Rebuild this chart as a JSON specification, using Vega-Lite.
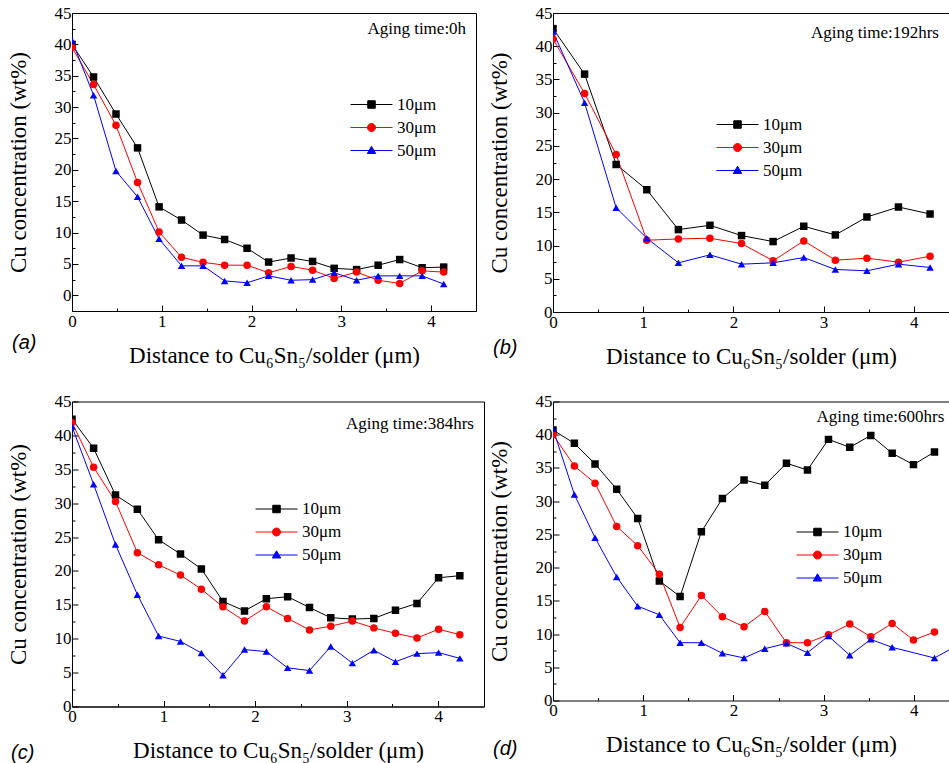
{
"$schema": "https://vega.github.io/schema/vega-lite/v6.json",
"background": "white",
"padding": {"left": 6, "top": 3, "right": 0, "bottom": 0},
"datasets": {
"pts": [
{"p":"a","s":"10μm","x":0,"y":40},{"p":"a","s":"10μm","x":0.24,"y":34.8},{"p":"a","s":"10μm","x":0.49,"y":28.9},{"p":"a","s":"10μm","x":0.73,"y":23.5},{"p":"a","s":"10μm","x":0.97,"y":14.1},{"p":"a","s":"10μm","x":1.22,"y":12.0},{"p":"a","s":"10μm","x":1.46,"y":9.6},{"p":"a","s":"10μm","x":1.7,"y":8.9},{"p":"a","s":"10μm","x":1.95,"y":7.5},{"p":"a","s":"10μm","x":2.19,"y":5.3},{"p":"a","s":"10μm","x":2.44,"y":5.95},{"p":"a","s":"10μm","x":2.68,"y":5.4},{"p":"a","s":"10μm","x":2.92,"y":4.3},{"p":"a","s":"10μm","x":3.17,"y":4.1},{"p":"a","s":"10μm","x":3.41,"y":4.8},{"p":"a","s":"10μm","x":3.65,"y":5.7},{"p":"a","s":"10μm","x":3.9,"y":4.4},{"p":"a","s":"10μm","x":4.14,"y":4.5},
{"p":"a","s":"30μm","x":0,"y":39.5},{"p":"a","s":"30μm","x":0.24,"y":33.6},{"p":"a","s":"30μm","x":0.49,"y":27.1},{"p":"a","s":"30μm","x":0.73,"y":18.0},{"p":"a","s":"30μm","x":0.97,"y":10.1},{"p":"a","s":"30μm","x":1.22,"y":6.06},{"p":"a","s":"30μm","x":1.46,"y":5.26},{"p":"a","s":"30μm","x":1.7,"y":4.8},{"p":"a","s":"30μm","x":1.95,"y":4.8},{"p":"a","s":"30μm","x":2.19,"y":3.6},{"p":"a","s":"30μm","x":2.44,"y":4.6},{"p":"a","s":"30μm","x":2.68,"y":4.0},{"p":"a","s":"30μm","x":2.92,"y":2.7},{"p":"a","s":"30μm","x":3.17,"y":3.7},{"p":"a","s":"30μm","x":3.41,"y":2.4},{"p":"a","s":"30μm","x":3.65,"y":1.9},{"p":"a","s":"30μm","x":3.9,"y":3.9},{"p":"a","s":"30μm","x":4.14,"y":3.7},
{"p":"a","s":"50μm","x":0,"y":40.6},{"p":"a","s":"50μm","x":0.24,"y":31.9},{"p":"a","s":"50μm","x":0.49,"y":19.8},{"p":"a","s":"50μm","x":0.73,"y":15.7},{"p":"a","s":"50μm","x":0.97,"y":9.0},{"p":"a","s":"50μm","x":1.22,"y":4.7},{"p":"a","s":"50μm","x":1.46,"y":4.7},{"p":"a","s":"50μm","x":1.7,"y":2.3},{"p":"a","s":"50μm","x":1.95,"y":2.0},{"p":"a","s":"50μm","x":2.19,"y":3.1},{"p":"a","s":"50μm","x":2.44,"y":2.4},{"p":"a","s":"50μm","x":2.68,"y":2.5},{"p":"a","s":"50μm","x":2.92,"y":3.6},{"p":"a","s":"50μm","x":3.17,"y":2.4},{"p":"a","s":"50μm","x":3.41,"y":3.1},{"p":"a","s":"50μm","x":3.65,"y":3.1},{"p":"a","s":"50μm","x":3.9,"y":3.1},{"p":"a","s":"50μm","x":4.14,"y":1.8},
{"p":"b","s":"10μm","x":0,"y":42.65},{"p":"b","s":"10μm","x":0.35,"y":35.8},{"p":"b","s":"10μm","x":0.7,"y":22.2},{"p":"b","s":"10μm","x":1.04,"y":18.4},{"p":"b","s":"10μm","x":1.39,"y":12.4},{"p":"b","s":"10μm","x":1.74,"y":13.05},{"p":"b","s":"10μm","x":2.09,"y":11.5},{"p":"b","s":"10μm","x":2.44,"y":10.6},{"p":"b","s":"10μm","x":2.78,"y":12.9},{"p":"b","s":"10μm","x":3.13,"y":11.6},{"p":"b","s":"10μm","x":3.48,"y":14.3},{"p":"b","s":"10μm","x":3.83,"y":15.8},{"p":"b","s":"10μm","x":4.18,"y":14.75},
{"p":"b","s":"30μm","x":0,"y":41.1},{"p":"b","s":"30μm","x":0.35,"y":32.9},{"p":"b","s":"30μm","x":0.7,"y":23.7},{"p":"b","s":"30μm","x":1.04,"y":10.8},{"p":"b","s":"30μm","x":1.39,"y":11.0},{"p":"b","s":"30μm","x":1.74,"y":11.1},{"p":"b","s":"30μm","x":2.09,"y":10.3},{"p":"b","s":"30μm","x":2.44,"y":7.7},{"p":"b","s":"30μm","x":2.78,"y":10.7},{"p":"b","s":"30μm","x":3.13,"y":7.8},{"p":"b","s":"30μm","x":3.48,"y":8.1},{"p":"b","s":"30μm","x":3.83,"y":7.5},{"p":"b","s":"30μm","x":4.18,"y":8.4},
{"p":"b","s":"50μm","x":0,"y":42.2},{"p":"b","s":"50μm","x":0.35,"y":31.5},{"p":"b","s":"50μm","x":0.7,"y":15.7},{"p":"b","s":"50μm","x":1.04,"y":11.1},{"p":"b","s":"50μm","x":1.39,"y":7.4},{"p":"b","s":"50μm","x":1.74,"y":8.6},{"p":"b","s":"50μm","x":2.09,"y":7.2},{"p":"b","s":"50μm","x":2.44,"y":7.4},{"p":"b","s":"50μm","x":2.78,"y":8.2},{"p":"b","s":"50μm","x":3.13,"y":6.4},{"p":"b","s":"50μm","x":3.48,"y":6.2},{"p":"b","s":"50μm","x":3.83,"y":7.2},{"p":"b","s":"50μm","x":4.18,"y":6.7},
{"p":"c","s":"10μm","x":0,"y":42.4},{"p":"c","s":"10μm","x":0.236,"y":38.1},{"p":"c","s":"10μm","x":0.475,"y":31.2},{"p":"c","s":"10μm","x":0.714,"y":29.1},{"p":"c","s":"10μm","x":0.946,"y":24.6},{"p":"c","s":"10μm","x":1.185,"y":22.5},{"p":"c","s":"10μm","x":1.413,"y":20.3},{"p":"c","s":"10μm","x":1.649,"y":15.5},{"p":"c","s":"10μm","x":1.884,"y":14.1},{"p":"c","s":"10μm","x":2.123,"y":15.9},{"p":"c","s":"10μm","x":2.355,"y":16.2},{"p":"c","s":"10μm","x":2.594,"y":14.6},{"p":"c","s":"10μm","x":2.826,"y":13.1},{"p":"c","s":"10μm","x":3.062,"y":12.9},{"p":"c","s":"10μm","x":3.297,"y":13.0},{"p":"c","s":"10μm","x":3.533,"y":14.2},{"p":"c","s":"10μm","x":3.768,"y":15.2},{"p":"c","s":"10μm","x":4.004,"y":19.0},{"p":"c","s":"10μm","x":4.236,"y":19.3},
{"p":"c","s":"30μm","x":0,"y":41.9},{"p":"c","s":"30μm","x":0.236,"y":35.3},{"p":"c","s":"30μm","x":0.475,"y":30.25},{"p":"c","s":"30μm","x":0.714,"y":22.7},{"p":"c","s":"30μm","x":0.946,"y":20.9},{"p":"c","s":"30μm","x":1.185,"y":19.4},{"p":"c","s":"30μm","x":1.413,"y":17.3},{"p":"c","s":"30μm","x":1.649,"y":14.7},{"p":"c","s":"30μm","x":1.884,"y":12.6},{"p":"c","s":"30μm","x":2.123,"y":14.7},{"p":"c","s":"30μm","x":2.355,"y":13.0},{"p":"c","s":"30μm","x":2.594,"y":11.3},{"p":"c","s":"30μm","x":2.826,"y":11.85},{"p":"c","s":"30μm","x":3.062,"y":12.6},{"p":"c","s":"30μm","x":3.297,"y":11.6},{"p":"c","s":"30μm","x":3.533,"y":10.8},{"p":"c","s":"30μm","x":3.768,"y":10.1},{"p":"c","s":"30μm","x":4.004,"y":11.4},{"p":"c","s":"30μm","x":4.236,"y":10.6},
{"p":"c","s":"50μm","x":0,"y":41.3},{"p":"c","s":"50μm","x":0.236,"y":32.8},{"p":"c","s":"50μm","x":0.475,"y":23.9},{"p":"c","s":"50μm","x":0.714,"y":16.5},{"p":"c","s":"50μm","x":0.946,"y":10.4},{"p":"c","s":"50μm","x":1.185,"y":9.6},{"p":"c","s":"50μm","x":1.413,"y":7.9},{"p":"c","s":"50μm","x":1.649,"y":4.6},{"p":"c","s":"50μm","x":1.884,"y":8.4},{"p":"c","s":"50μm","x":2.123,"y":8.1},{"p":"c","s":"50μm","x":2.355,"y":5.7},{"p":"c","s":"50μm","x":2.594,"y":5.3},{"p":"c","s":"50μm","x":2.826,"y":8.85},{"p":"c","s":"50μm","x":3.062,"y":6.4},{"p":"c","s":"50μm","x":3.297,"y":8.3},{"p":"c","s":"50μm","x":3.533,"y":6.6},{"p":"c","s":"50μm","x":3.768,"y":7.8},{"p":"c","s":"50μm","x":4.004,"y":7.95},{"p":"c","s":"50μm","x":4.236,"y":7.1},
{"p":"d","s":"10μm","x":0,"y":40.7},{"p":"d","s":"10μm","x":0.237,"y":38.7},{"p":"d","s":"10μm","x":0.466,"y":35.6},{"p":"d","s":"10μm","x":0.706,"y":31.8},{"p":"d","s":"10μm","x":0.939,"y":27.4},{"p":"d","s":"10μm","x":1.179,"y":18.0},{"p":"d","s":"10μm","x":1.409,"y":15.65},{"p":"d","s":"10μm","x":1.645,"y":25.4},{"p":"d","s":"10μm","x":1.878,"y":30.4},{"p":"d","s":"10μm","x":2.118,"y":33.2},{"p":"d","s":"10μm","x":2.348,"y":32.4},{"p":"d","s":"10μm","x":2.588,"y":35.7},{"p":"d","s":"10μm","x":2.821,"y":34.7},{"p":"d","s":"10μm","x":3.054,"y":39.3},{"p":"d","s":"10μm","x":3.29,"y":38.1},{"p":"d","s":"10μm","x":3.523,"y":39.9},{"p":"d","s":"10μm","x":3.76,"y":37.2},{"p":"d","s":"10μm","x":3.996,"y":35.5},{"p":"d","s":"10μm","x":4.229,"y":37.4},
{"p":"d","s":"30μm","x":0,"y":40.0},{"p":"d","s":"30μm","x":0.237,"y":35.3},{"p":"d","s":"30μm","x":0.466,"y":32.7},{"p":"d","s":"30μm","x":0.706,"y":26.2},{"p":"d","s":"30μm","x":0.939,"y":23.3},{"p":"d","s":"30μm","x":1.179,"y":19.0},{"p":"d","s":"30μm","x":1.409,"y":11.0},{"p":"d","s":"30μm","x":1.645,"y":15.8},{"p":"d","s":"30μm","x":1.878,"y":12.6},{"p":"d","s":"30μm","x":2.118,"y":11.1},{"p":"d","s":"30μm","x":2.348,"y":13.4},{"p":"d","s":"30μm","x":2.588,"y":8.7},{"p":"d","s":"30μm","x":2.821,"y":8.7},{"p":"d","s":"30μm","x":3.054,"y":9.9},{"p":"d","s":"30μm","x":3.29,"y":11.5},{"p":"d","s":"30μm","x":3.523,"y":9.6},{"p":"d","s":"30μm","x":3.76,"y":11.6},{"p":"d","s":"30μm","x":3.996,"y":9.1},{"p":"d","s":"30μm","x":4.229,"y":10.3},
{"p":"d","s":"50μm","x":0,"y":40.9},{"p":"d","s":"50μm","x":0.237,"y":31.0},{"p":"d","s":"50μm","x":0.466,"y":24.5},{"p":"d","s":"50μm","x":0.706,"y":18.6},{"p":"d","s":"50μm","x":0.939,"y":14.2},{"p":"d","s":"50μm","x":1.179,"y":12.9},{"p":"d","s":"50μm","x":1.409,"y":8.7},{"p":"d","s":"50μm","x":1.645,"y":8.7},{"p":"d","s":"50μm","x":1.878,"y":7.1},{"p":"d","s":"50μm","x":2.118,"y":6.4},{"p":"d","s":"50μm","x":2.348,"y":7.8},{"p":"d","s":"50μm","x":2.588,"y":8.6},{"p":"d","s":"50μm","x":2.821,"y":7.2},{"p":"d","s":"50μm","x":3.054,"y":9.7},{"p":"d","s":"50μm","x":3.29,"y":6.8},{"p":"d","s":"50μm","x":3.523,"y":9.2},{"p":"d","s":"50μm","x":3.76,"y":8.0},{"p":"d","s":"50μm","x":4.229,"y":6.4},{"p":"d","s":"50μm","x":4.47,"y":8.2}
]
},
"columns": 2,
"spacing": {"row": 89.5, "column": 69},
"bounds": "flush",
"resolve": {"scale": {"x": "independent", "y": "independent", "color": "independent", "shape": "independent", "fill": "independent", "stroke": "independent"}, "legend": {"color": "independent", "shape": "independent", "fill": "independent", "stroke": "independent"}, "axis": {"x": "independent", "y": "independent"}},
"concat": [
{
"width": 404, "height": 298,
"title": {"text": "(a)", "dx": -60, "offset": -34},
"resolve": {"axis": {"x": "independent", "y": "independent"}, "scale": {"shape": "independent"}, "legend": {"color": "independent", "shape": "independent", "fill": "independent", "stroke": "independent"}},
"layer": [
{"data": {"name": "pts"}, "transform": [{"filter": "datum.p === 'a'"}],
 "mark": {"type": "line", "strokeWidth": 1, "clip": true},
 "encoding": {
  "x": {"field": "x", "type": "quantitative", "scale": {"domain": [0, 4.5], "nice": false, "zero": false},
        "axis": {"orient": "bottom", "title": "Distance to Cu₆Sn₅/solder (μm)", "values": [0,1,2,3,4], "format": "d"}},
  "y": {"field": "y", "type": "quantitative", "scale": {"domain": [-2.5, 45], "nice": false, "zero": false},
        "axis": {"orient": "left", "title": "Cu concentration (wt%)", "values": [0,5,10,15,20,25,30,35,40,45], "format": "d"}},
  "color": {"field": "s", "type": "nominal", "scale": {"domain": ["10μm","30μm","50μm"], "range": ["black","red","blue"]}, "legend": null}
 }},
{"data": {"name": "pts"}, "transform": [{"filter": "datum.p === 'a'"}],
 "mark": {"type": "point", "filled": true, "size": 56, "opacity": 1, "clip": true},
 "encoding": {
  "x": {"field": "x", "type": "quantitative", "axis": {"orient": "bottom", "values": [0.5,1.5,2.5,3.5], "labels": false, "domain": false, "title": null, "tickSize": -3}},
  "y": {"field": "y", "type": "quantitative", "axis": {"orient": "left", "values": [2.5,7.5,12.5,17.5,22.5,27.5,32.5,37.5,42.5], "labels": false, "domain": false, "title": null, "tickSize": -3}},
  "color": {"field": "s", "type": "nominal", "scale": {"domain": ["10μm","30μm","50μm"], "range": ["black","red","blue"]}, "legend": null},
  "shape": {"field": "s", "type": "nominal", "scale": {"domain": ["10μm","30μm","50μm"], "range": ["square","circle","triangle-up"]}, "legend": null}
 }},
{"data": {"values": [{"t": "Aging time:0h"}]},
 "mark": {"type": "text", "align": "right", "baseline": "alphabetic", "fontSize": 17, "font": "Liberation Serif", "color": "black"},
 "encoding": {"x": {"datum": 4.39, "type": "quantitative", "axis": null}, "y": {"datum": 41.6, "type": "quantitative", "axis": null}, "text": {"field": "t"}}},
{"data": {"name": "pts"}, "transform": [{"filter": "datum.p === 'a'"}],
 "mark": {"type": "point", "opacity": 0, "size": 1},
 "encoding": {
  "x": {"field": "x", "type": "quantitative", "axis": null},
  "y": {"field": "y", "type": "quantitative", "axis": null},
  "fill": {"field": "s", "type": "nominal", "scale": {"domain": ["10μm","30μm","50μm"], "range": ["black","red","blue"]}, "legend": {"title": null, "orient": "none", "legendX": 291, "legendY": 83}},
  "stroke": {"field": "s", "type": "nominal", "scale": {"domain": ["10μm","30μm","50μm"], "range": ["black","red","blue"]}, "legend": {"title": null, "orient": "none", "legendX": 291, "legendY": 83}},
  "shape": {"field": "s", "type": "nominal", "scale": {"domain": ["10μm","30μm","50μm"], "range": ["M-4.2,0H4.2M-0.75,-0.75H0.75V0.75H-0.75Z", "M-4.2,0H4.2M-0.8,0A0.8,0.8,0,1,0,0.8,0A0.8,0.8,0,1,0,-0.8,0Z", "M-4.2,0H4.2M0,-0.84L0.84,0.6L-0.84,0.6Z"]}, "legend": {"title": null, "orient": "none", "legendX": 291, "legendY": 83}}
 }}
]
},
{
"width": 396, "height": 299,
"view": {"stroke": null},
"title": {"text": "(b)", "dx": -60, "offset": -30},
"resolve": {"axis": {"x": "independent", "y": "independent"}, "scale": {"shape": "independent"}, "legend": {"color": "independent", "shape": "independent", "fill": "independent", "stroke": "independent"}},
"layer": [
{"data": {"name": "pts"}, "transform": [{"filter": "datum.p === 'b'"}],
 "mark": {"type": "line", "strokeWidth": 1, "clip": true},
 "encoding": {
  "x": {"field": "x", "type": "quantitative", "scale": {"domain": [0, 4.39], "nice": false, "zero": false},
        "axis": {"orient": "bottom", "title": "Distance to Cu₆Sn₅/solder (μm)", "values": [0,1,2,3,4], "format": "d"}},
  "y": {"field": "y", "type": "quantitative", "scale": {"domain": [0, 45], "nice": false, "zero": false},
        "axis": {"orient": "left", "title": "Cu concentration (wt%)", "values": [0,5,10,15,20,25,30,35,40,45], "format": "d"}},
  "color": {"field": "s", "type": "nominal", "scale": {"domain": ["10μm","30μm","50μm"], "range": ["black","red","blue"]}, "legend": null}
 }},
{"data": {"name": "pts"}, "transform": [{"filter": "datum.p === 'b'"}],
 "mark": {"type": "point", "filled": true, "size": 56, "opacity": 1, "clip": true},
 "encoding": {
  "x": {"field": "x", "type": "quantitative", "axis": {"orient": "bottom", "values": [0.5,1.5,2.5,3.5], "labels": false, "domain": false, "title": null, "tickSize": -3}},
  "y": {"field": "y", "type": "quantitative", "axis": {"orient": "left", "values": [2.5,7.5,12.5,17.5,22.5,27.5,32.5,37.5,42.5], "labels": false, "domain": false, "title": null, "tickSize": -3}},
  "color": {"field": "s", "type": "nominal", "scale": {"domain": ["10μm","30μm","50μm"], "range": ["black","red","blue"]}, "legend": null},
  "shape": {"field": "s", "type": "nominal", "scale": {"domain": ["10μm","30μm","50μm"], "range": ["square","circle","triangle-up"]}, "legend": null}
 }},
{"data": {"values": [{"t": "Aging time:192hrs"}]},
 "mark": {"type": "text", "align": "left", "baseline": "alphabetic", "fontSize": 17, "font": "Liberation Serif", "color": "black", "clip": true},
 "encoding": {"x": {"datum": 2.86, "type": "quantitative", "axis": {"orient": "top", "labels": false, "ticks": false, "title": null, "domain": true}}, "y": {"datum": 41.2, "type": "quantitative", "axis": null}, "text": {"field": "t"}}},
{"data": {"name": "pts"}, "transform": [{"filter": "datum.p === 'b'"}],
 "mark": {"type": "point", "opacity": 0, "size": 1},
 "encoding": {
  "x": {"field": "x", "type": "quantitative", "axis": null},
  "y": {"field": "y", "type": "quantitative", "axis": null},
  "fill": {"field": "s", "type": "nominal", "scale": {"domain": ["10μm","30μm","50μm"], "range": ["black","red","blue"]}, "legend": {"title": null, "orient": "none", "legendX": 176, "legendY": 103}},
  "stroke": {"field": "s", "type": "nominal", "scale": {"domain": ["10μm","30μm","50μm"], "range": ["black","red","blue"]}, "legend": {"title": null, "orient": "none", "legendX": 176, "legendY": 103}},
  "shape": {"field": "s", "type": "nominal", "scale": {"domain": ["10μm","30μm","50μm"], "range": ["M-4.2,0H4.2M-0.75,-0.75H0.75V0.75H-0.75Z", "M-4.2,0H4.2M-0.8,0A0.8,0.8,0,1,0,0.8,0A0.8,0.8,0,1,0,-0.8,0Z", "M-4.2,0H4.2M0,-0.84L0.84,0.6L-0.84,0.6Z"]}, "legend": {"title": null, "orient": "none", "legendX": 176, "legendY": 103}}
 }}
]
},
{
"width": 412, "height": 305,
"title": {"text": "(c)", "dx": -61, "offset": -20},
"resolve": {"axis": {"x": "independent", "y": "independent"}, "scale": {"shape": "independent"}, "legend": {"color": "independent", "shape": "independent", "fill": "independent", "stroke": "independent"}},
"layer": [
{"data": {"name": "pts"}, "transform": [{"filter": "datum.p === 'c'"}],
 "mark": {"type": "line", "strokeWidth": 1, "clip": true},
 "encoding": {
  "x": {"field": "x", "type": "quantitative", "scale": {"domain": [0, 4.5], "nice": false, "zero": false},
        "axis": {"orient": "bottom", "title": "Distance to Cu₆Sn₅/solder (μm)", "values": [0,1,2,3,4], "format": "d"}},
  "y": {"field": "y", "type": "quantitative", "scale": {"domain": [0, 45], "nice": false, "zero": false},
        "axis": {"orient": "left", "title": "Cu concentration (wt%)", "values": [0,5,10,15,20,25,30,35,40,45], "format": "d"}},
  "color": {"field": "s", "type": "nominal", "scale": {"domain": ["10μm","30μm","50μm"], "range": ["black","red","blue"]}, "legend": null}
 }},
{"data": {"name": "pts"}, "transform": [{"filter": "datum.p === 'c'"}],
 "mark": {"type": "point", "filled": true, "size": 56, "opacity": 1, "clip": true},
 "encoding": {
  "x": {"field": "x", "type": "quantitative", "axis": {"orient": "bottom", "values": [0.5,1.5,2.5,3.5], "labels": false, "domain": false, "title": null, "tickSize": -3}},
  "y": {"field": "y", "type": "quantitative", "axis": {"orient": "left", "values": [2.5,7.5,12.5,17.5,22.5,27.5,32.5,37.5,42.5], "labels": false, "domain": false, "title": null, "tickSize": -3}},
  "color": {"field": "s", "type": "nominal", "scale": {"domain": ["10μm","30μm","50μm"], "range": ["black","red","blue"]}, "legend": null},
  "shape": {"field": "s", "type": "nominal", "scale": {"domain": ["10μm","30μm","50μm"], "range": ["square","circle","triangle-up"]}, "legend": null}
 }},
{"data": {"values": [{"t": "Aging time:384hrs"}]},
 "mark": {"type": "text", "align": "right", "baseline": "alphabetic", "fontSize": 17, "font": "Liberation Serif", "color": "black"},
 "encoding": {"x": {"datum": 4.39, "type": "quantitative", "axis": null}, "y": {"datum": 41.0, "type": "quantitative", "axis": null}, "text": {"field": "t"}}},
{"data": {"name": "pts"}, "transform": [{"filter": "datum.p === 'c'"}],
 "mark": {"type": "point", "opacity": 0, "size": 1},
 "encoding": {
  "x": {"field": "x", "type": "quantitative", "axis": null},
  "y": {"field": "y", "type": "quantitative", "axis": null},
  "fill": {"field": "s", "type": "nominal", "scale": {"domain": ["10μm","30μm","50μm"], "range": ["black","red","blue"]}, "legend": {"title": null, "orient": "none", "legendX": 196, "legendY": 99}},
  "stroke": {"field": "s", "type": "nominal", "scale": {"domain": ["10μm","30μm","50μm"], "range": ["black","red","blue"]}, "legend": {"title": null, "orient": "none", "legendX": 196, "legendY": 99}},
  "shape": {"field": "s", "type": "nominal", "scale": {"domain": ["10μm","30μm","50μm"], "range": ["M-4.2,0H4.2M-0.75,-0.75H0.75V0.75H-0.75Z", "M-4.2,0H4.2M-0.8,0A0.8,0.8,0,1,0,0.8,0A0.8,0.8,0,1,0,-0.8,0Z", "M-4.2,0H4.2M0,-0.84L0.84,0.6L-0.84,0.6Z"]}, "legend": {"title": null, "orient": "none", "legendX": 196, "legendY": 99}}
 }}
]
},
{
"width": 396, "height": 299,
"view": {"stroke": null},
"title": {"text": "(d)", "dx": -60, "offset": -18},
"resolve": {"axis": {"x": "independent", "y": "independent"}, "scale": {"shape": "independent"}, "legend": {"color": "independent", "shape": "independent", "fill": "independent", "stroke": "independent"}},
"layer": [
{"data": {"name": "pts"}, "transform": [{"filter": "datum.p === 'd'"}],
 "mark": {"type": "line", "strokeWidth": 1, "clip": true},
 "encoding": {
  "x": {"field": "x", "type": "quantitative", "scale": {"domain": [0, 4.39], "nice": false, "zero": false},
        "axis": {"orient": "bottom", "title": "Distance to Cu₆Sn₅/solder (μm)", "values": [0,1,2,3,4], "format": "d"}},
  "y": {"field": "y", "type": "quantitative", "scale": {"domain": [0, 45], "nice": false, "zero": false},
        "axis": {"orient": "left", "title": "Cu concentration (wt%)", "values": [0,5,10,15,20,25,30,35,40,45], "format": "d"}},
  "color": {"field": "s", "type": "nominal", "scale": {"domain": ["10μm","30μm","50μm"], "range": ["black","red","blue"]}, "legend": null}
 }},
{"data": {"name": "pts"}, "transform": [{"filter": "datum.p === 'd'"}],
 "mark": {"type": "point", "filled": true, "size": 56, "opacity": 1, "clip": true},
 "encoding": {
  "x": {"field": "x", "type": "quantitative", "axis": {"orient": "bottom", "values": [0.5,1.5,2.5,3.5], "labels": false, "domain": false, "title": null, "tickSize": -3}},
  "y": {"field": "y", "type": "quantitative", "axis": {"orient": "left", "values": [2.5,7.5,12.5,17.5,22.5,27.5,32.5,37.5,42.5], "labels": false, "domain": false, "title": null, "tickSize": -3}},
  "color": {"field": "s", "type": "nominal", "scale": {"domain": ["10μm","30μm","50μm"], "range": ["black","red","blue"]}, "legend": null},
  "shape": {"field": "s", "type": "nominal", "scale": {"domain": ["10μm","30μm","50μm"], "range": ["square","circle","triangle-up"]}, "legend": null}
 }},
{"data": {"values": [{"t": "Aging time:600hrs"}]},
 "mark": {"type": "text", "align": "left", "baseline": "alphabetic", "fontSize": 17, "font": "Liberation Serif", "color": "black", "clip": true},
 "encoding": {"x": {"datum": 2.92, "type": "quantitative", "axis": {"orient": "top", "labels": false, "ticks": false, "title": null, "domain": true}}, "y": {"datum": 41.9, "type": "quantitative", "axis": null}, "text": {"field": "t"}}},
{"data": {"name": "pts"}, "transform": [{"filter": "datum.p === 'd'"}],
 "mark": {"type": "point", "opacity": 0, "size": 1},
 "encoding": {
  "x": {"field": "x", "type": "quantitative", "axis": null},
  "y": {"field": "y", "type": "quantitative", "axis": null},
  "fill": {"field": "s", "type": "nominal", "scale": {"domain": ["10μm","30μm","50μm"], "range": ["black","red","blue"]}, "legend": {"title": null, "orient": "none", "legendX": 256, "legendY": 122}},
  "stroke": {"field": "s", "type": "nominal", "scale": {"domain": ["10μm","30μm","50μm"], "range": ["black","red","blue"]}, "legend": {"title": null, "orient": "none", "legendX": 256, "legendY": 122}},
  "shape": {"field": "s", "type": "nominal", "scale": {"domain": ["10μm","30μm","50μm"], "range": ["M-4.2,0H4.2M-0.75,-0.75H0.75V0.75H-0.75Z", "M-4.2,0H4.2M-0.8,0A0.8,0.8,0,1,0,0.8,0A0.8,0.8,0,1,0,-0.8,0Z", "M-4.2,0H4.2M0,-0.84L0.84,0.6L-0.84,0.6Z"]}, "legend": {"title": null, "orient": "none", "legendX": 256, "legendY": 122}}
 }}
]
}
],
"config": {
 "font": "Liberation Serif",
 "view": {"stroke": "black", "strokeWidth": 1},
 "axis": {"grid": false, "domainColor": "black", "domainWidth": 1, "tickColor": "black", "tickWidth": 1, "labelColor": "black", "titleColor": "black",
          "labelFont": "Liberation Serif", "labelFontSize": 17, "titleFont": "Liberation Serif", "titleFontSize": 23, "titleFontWeight": "normal",
          "tickSize": -6, "labelFlush": false, "labelOverlap": false},
 "axisX": {"labelPadding": 8, "titlePadding": 15},
 "axisY": {"labelPadding": 7, "titlePadding": 24},
 "legend": {"labelFont": "Liberation Serif", "labelFontSize": 17, "labelColor": "black", "symbolSize": 100, "symbolStrokeWidth": 1, "symbolOpacity": 1,
            "labelOffset": 17, "rowPadding": 5, "padding": 0},
 "title": {"font": "Liberation Sans", "fontSize": 20, "fontStyle": "italic", "fontWeight": "normal", "orient": "bottom", "anchor": "start", "frame": "group", "color": "black"}
}
}
